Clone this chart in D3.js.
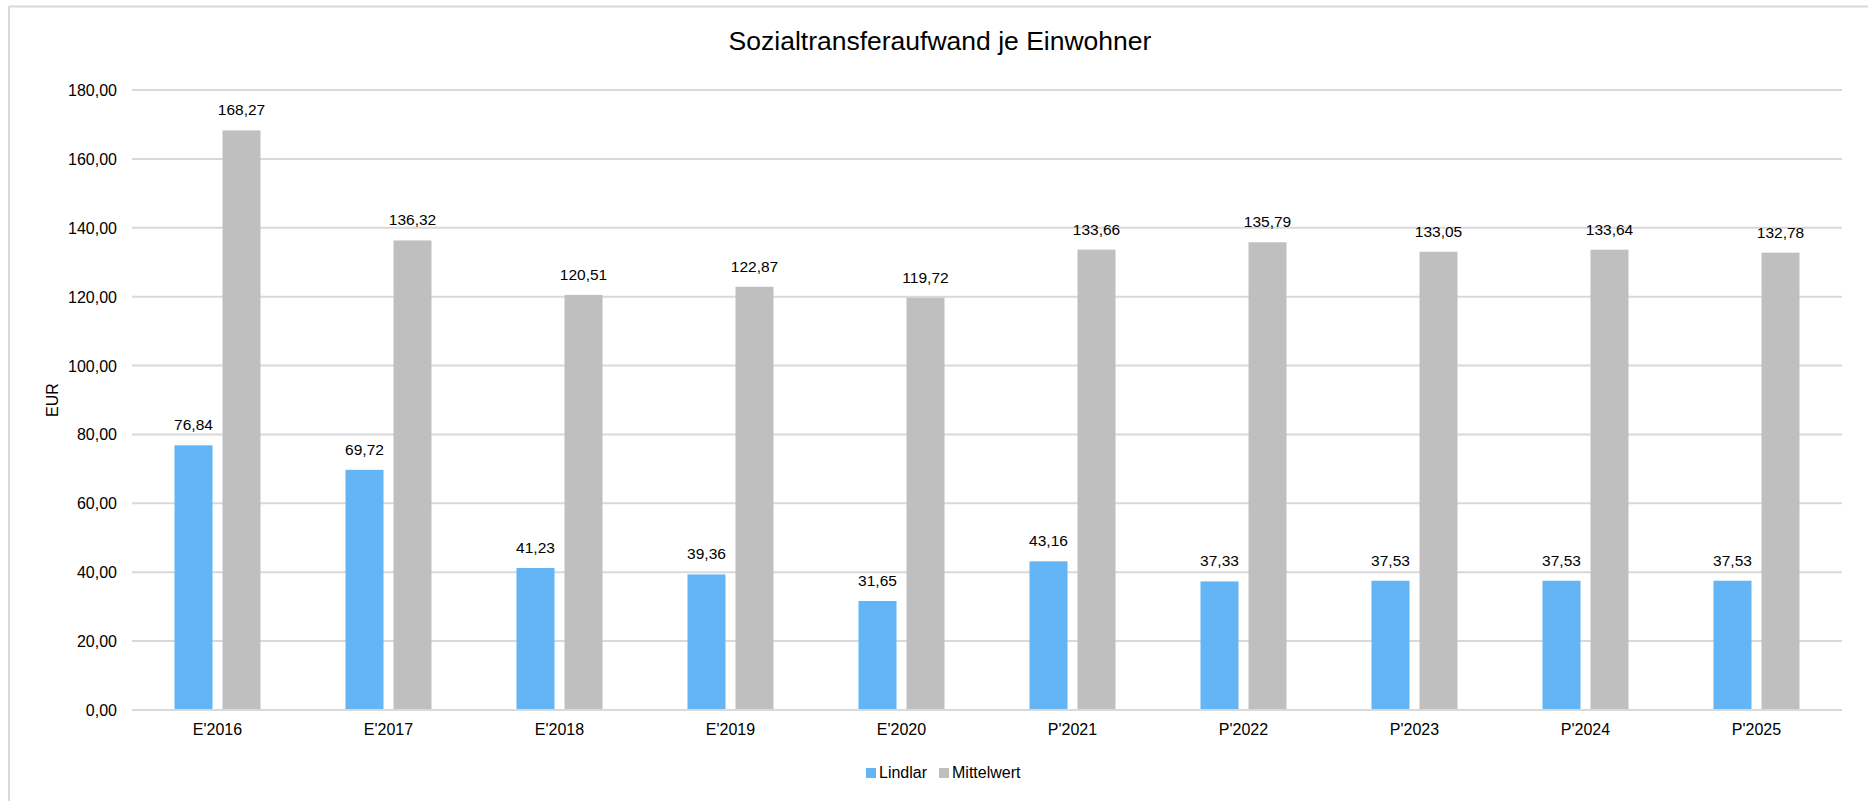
<!DOCTYPE html>
<html>
<head>
<meta charset="utf-8">
<script src="https://cdn.jsdelivr.net/npm/d3@7"></script>
<style>
  body { margin: 0; background: #fff; }
  svg { font-family: "Liberation Sans", Arial, sans-serif; }
</style>
</head>
<body>
<svg id="chart" width="1868" height="801"></svg>
<script>
var categories = ["E'2016", "E'2017", "E'2018", "E'2019", "E'2020", "P'2021", "P'2022", "P'2023", "P'2024", "P'2025"];
var lindlar = [76.84, 69.72, 41.23, 39.36, 31.65, 43.16, 37.33, 37.53, 37.53, 37.53];
var mittelwert = [168.27, 136.32, 120.51, 122.87, 119.72, 133.66, 135.79, 133.05, 133.64, 132.78];
var seriesNames = ["Lindlar", "Mittelwert"];
var seriesColors = ["#63b5f6", "#bfbfbf"];
var yTicks = [0, 20, 40, 60, 80, 100, 120, 140, 160, 180];

var svg = d3.select("#chart");
var plotLeft = 132, plotRight = 1842, plotTop = 90, plotBottom = 710;

var fmt = function(v) { return d3.format(".2f")(v).replace(".", ","); };

// frame
svg.append("line").attr("x1", 9).attr("x2", 1868).attr("y1", 6.5).attr("y2", 6.5)
  .attr("stroke", "#d9d9d9").attr("stroke-width", 2);
svg.append("line").attr("x1", 9).attr("x2", 9).attr("y1", 6).attr("y2", 801)
  .attr("stroke", "#d9d9d9").attr("stroke-width", 2);

var x = d3.scaleBand().domain(categories).range([plotLeft, plotRight]);
var y = d3.scaleLinear().domain([0, 180]).range([plotBottom, plotTop]);

// grid
svg.append("g").selectAll("line").data(yTicks).enter().append("line")
  .attr("x1", plotLeft).attr("x2", plotRight)
  .attr("y1", function(d) { return y(d); }).attr("y2", function(d) { return y(d); })
  .attr("stroke", "#d9d9d9").attr("stroke-width", 2);

// y axis labels
svg.append("g").selectAll("text").data(yTicks).enter().append("text")
  .attr("x", 117).attr("y", function(d) { return y(d) + 6; })
  .attr("text-anchor", "end").attr("font-size", 16).attr("fill", "#000")
  .text(fmt);

svg.append("text")
  .attr("transform", "translate(58,400) rotate(-90)")
  .attr("text-anchor", "middle").attr("font-size", 16)
  .text("EUR");

// title
svg.append("text").attr("x", 940).attr("y", 50)
  .attr("text-anchor", "middle").attr("font-size", 26.5)
  .text("Sozialtransferaufwand je Einwohner");

var barW = 38, gap = 10;
var series = [lindlar, mittelwert];

series.forEach(function(vals, s) {
  var off = s === 0 ? -(gap / 2 + barW) : gap / 2;
  var g = svg.append("g");
  g.selectAll("rect").data(vals).enter().append("rect")
    .attr("x", function(d, i) { return x(categories[i]) + x.bandwidth() / 2 + off; })
    .attr("y", function(d) { return y(d); })
    .attr("width", barW)
    .attr("height", function(d) { return y(0) - y(d); })
    .attr("fill", seriesColors[s]);
  g.selectAll("text").data(vals).enter().append("text")
    .attr("x", function(d, i) { return x(categories[i]) + x.bandwidth() / 2 + off + barW / 2; })
    .attr("y", function(d) { return y(d) - 15; })
    .attr("text-anchor", "middle").attr("font-size", 15.5)
    .text(fmt);
});

// redraw baseline over bars
svg.append("line").attr("x1", plotLeft).attr("x2", plotRight)
  .attr("y1", y(0)).attr("y2", y(0))
  .attr("stroke", "#d9d9d9").attr("stroke-width", 2);

// x labels
svg.append("g").selectAll("text").data(categories).enter().append("text")
  .attr("x", function(d) { return x(d) + x.bandwidth() / 2; })
  .attr("y", 735)
  .attr("text-anchor", "middle").attr("font-size", 16)
  .text(function(d) { return d; });

// legend
var legendX = [866, 939];
seriesNames.forEach(function(n, i) {
  svg.append("rect").attr("x", legendX[i]).attr("y", 768).attr("width", 10).attr("height", 10)
    .attr("fill", seriesColors[i]);
  svg.append("text").attr("x", legendX[i] + 13).attr("y", 778)
    .attr("font-size", 16).text(n);
});
</script>
</body>
</html>
